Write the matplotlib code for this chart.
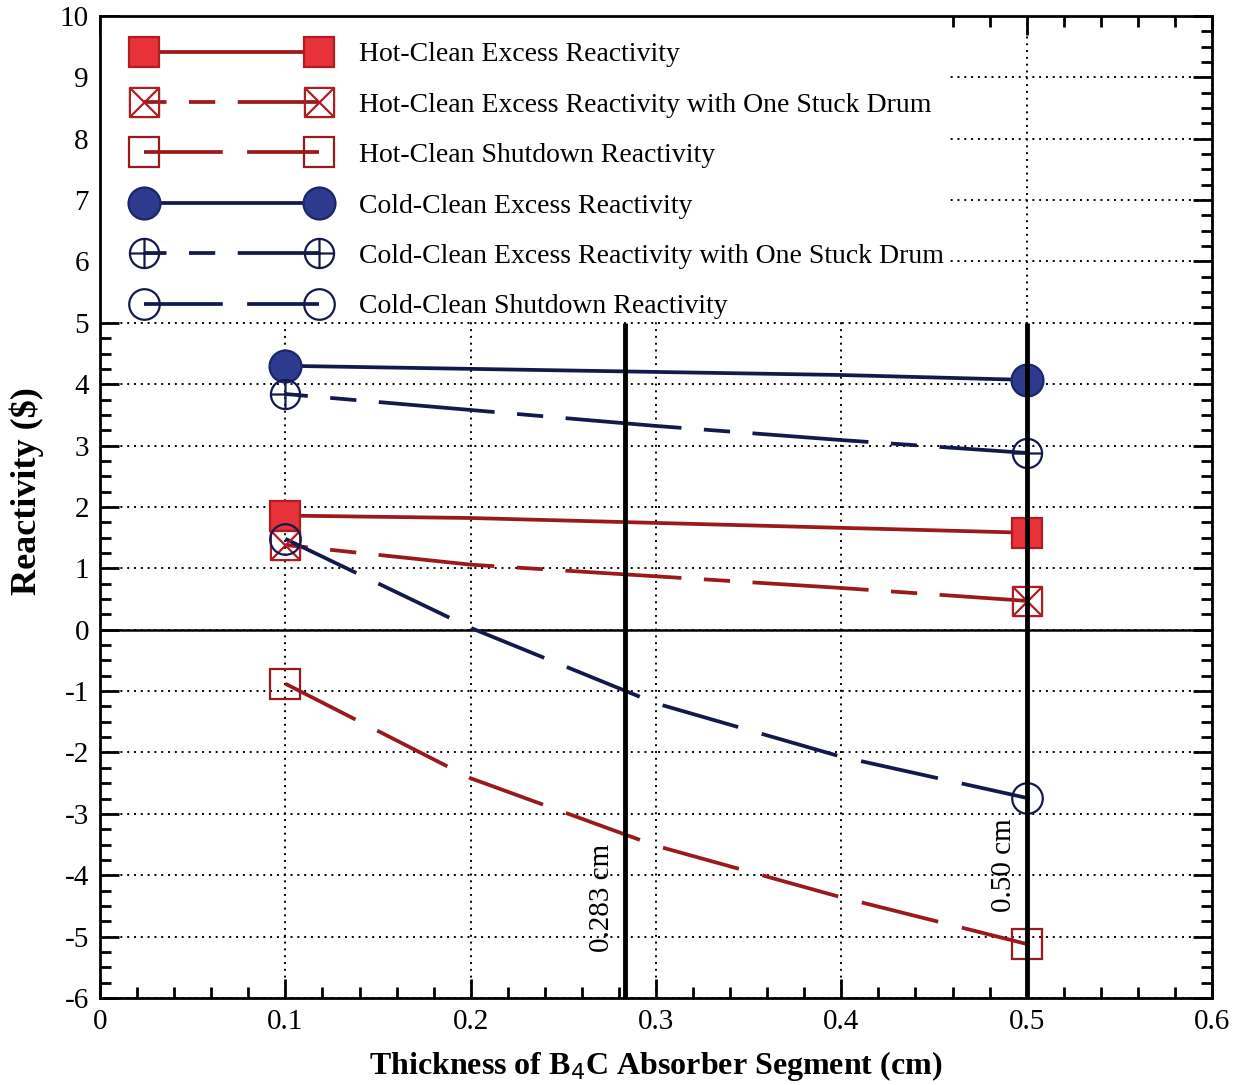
import numpy as np
import matplotlib
matplotlib.use('Agg')
from matplotlib import pyplot as plt
from matplotlib.path import Path
from matplotlib.lines import Line2D
from matplotlib.patches import Rectangle
from matplotlib.ticker import MultipleLocator

# data
thickness = [0.1, 0.2, 0.3, 0.4, 0.5]
hot_excess = [1.86, 1.82, 1.74, 1.66, 1.58]
hot_excess_stuck = [1.38, 1.06, 0.87, 0.68, 0.47]
hot_shutdown = [-0.88, -2.42, -3.52, -4.36, -5.12]
cold_excess = [4.30, 4.25, 4.20, 4.15, 4.07]
cold_excess_stuck = [3.84, 3.58, 3.32, 3.09, 2.88]
cold_shutdown = [1.48, 0.03, -1.20, -2.07, -2.74]

design_thickness = [0.283, 0.5]
design_labels = ['0.283 cm', '0.50 cm']
design_label_y = [-5.25, -4.6]

labels = ['Hot-Clean Excess Reactivity',
          'Hot-Clean Excess Reactivity with One Stuck Drum',
          'Hot-Clean Shutdown Reactivity',
          'Cold-Clean Excess Reactivity',
          'Cold-Clean Excess Reactivity with One Stuck Drum',
          'Cold-Clean Shutdown Reactivity']

plt.rcParams['font.family'] = ['Liberation Serif', 'DejaVu Serif']
plt.rcParams['axes.unicode_minus'] = False

# custom markers: boxed X and crossed circle
box_x = Path([(-1, -1), (1, -1), (1, 1), (-1, 1), (-1, -1),
              (-1, -1), (1, 1), (-1, 1), (1, -1)],
             [Path.MOVETO, Path.LINETO, Path.LINETO, Path.LINETO, Path.CLOSEPOLY,
              Path.MOVETO, Path.LINETO, Path.MOVETO, Path.LINETO])
cross = Path([(-1, 0), (1, 0), (0, -1), (0, 1)],
             [Path.MOVETO, Path.LINETO, Path.MOVETO, Path.LINETO])
circle_plus = Path.make_compound_path(Path.unit_circle(), cross)

hot_line = '#9a1a1c'
hot_fill = '#e8323a'
hot_edge = '#b01c22'
cold_line = '#121a4c'
cold_fill = '#2e3a8e'
cold_edge = '#1c2668'

LW = 2.7
stuck_dash = (25, (31, 6, 7, 6))
shut_dash = (0, (21, 6.5))

series = [
    (hot_excess, hot_line, '-', 's', hot_fill, hot_edge, 22),
    (hot_excess_stuck, hot_line, stuck_dash, box_x, 'none', hot_edge, 21),
    (hot_shutdown, hot_line, shut_dash, 's', 'none', hot_line, 21),
    (cold_excess, cold_line, '-', 'o', cold_fill, cold_edge, 23),
    (cold_excess_stuck, cold_line, stuck_dash, circle_plus, 'none', cold_line, 21),
    (cold_shutdown, cold_line, shut_dash, 'o', 'none', cold_line, 22),
]

fig = plt.figure(figsize=(12.46, 10.85), dpi=100)
ax = fig.add_axes([0.0803, 0.0802, 0.8924, 0.9051])

ax.set_xlim(0, 0.6)
ax.set_ylim(-6, 10)
ax.xaxis.set_major_locator(MultipleLocator(0.1))
ax.xaxis.set_minor_locator(MultipleLocator(0.02))
ax.yaxis.set_major_locator(MultipleLocator(1))
ax.yaxis.set_minor_locator(MultipleLocator(0.25))
ax.set_xticks(np.arange(0, 0.61, 0.1))
ax.set_xticklabels(['0', '0.1', '0.2', '0.3', '0.4', '0.5', '0.6'])
ax.tick_params(which='both', direction='in', top=True, right=True,
               width=2, labelsize=21, pad=8)
ax.tick_params(which='major', length=14)
ax.tick_params(which='minor', length=8)
for s in ax.spines.values():
    s.set_linewidth(2)

ax.grid(True, which='major', color='black', linestyle=(0, (1, 2.5)), linewidth=1.4, zorder=0)

ax.axhline(0, color='black', linewidth=1.8, zorder=1)

legend_handles = []
for vals, lc, ls, mk, mfc, mec, ms in series:
    ax.plot(thickness, vals, color=lc, linestyle=ls, linewidth=LW, zorder=3)
    ax.plot([thickness[0], thickness[-1]], [vals[0], vals[-1]], linestyle='none',
            marker=mk, markersize=ms, markerfacecolor=mfc, markeredgecolor=mec,
            markeredgewidth=1.6, zorder=4)
    legend_handles.append(Line2D([], [], color=lc, linestyle=ls, linewidth=LW,
                                 marker=mk, markersize=ms, markerfacecolor=mfc,
                                 markeredgecolor=mec, markeredgewidth=1.6))

for xv, txt, ty in zip(design_thickness, design_labels, design_label_y):
    ax.vlines(xv, -6, 5, color='black', linewidth=3.5, zorder=5)
    ax.text(xv - 0.012, ty, txt, rotation=90, ha='center', va='bottom',
            fontsize=21, zorder=6)

# white box behind the legend hiding the grid
ax.add_patch(Rectangle((0, 5.05), 0.458, 4.95, facecolor='white',
                       edgecolor='none', zorder=2))

leg = ax.legend(legend_handles, labels, loc='upper left', numpoints=2,
                frameon=False, fontsize=20, handlelength=6.9, handletextpad=1.15,
                labelspacing=0.9, borderaxespad=0.0,
                bbox_to_anchor=(0.022, 0.985))
leg.set_zorder(7)

ax.set_xlabel('Thickness of B$_4$C Absorber Segment (cm)', fontsize=23,
              fontweight='bold', labelpad=10)
ax.set_ylabel('Reactivity ($)', fontsize=26, fontweight='bold')
ax.yaxis.set_label_coords(-0.050, 0.516)

fig.savefig('out.png', dpi=100)
